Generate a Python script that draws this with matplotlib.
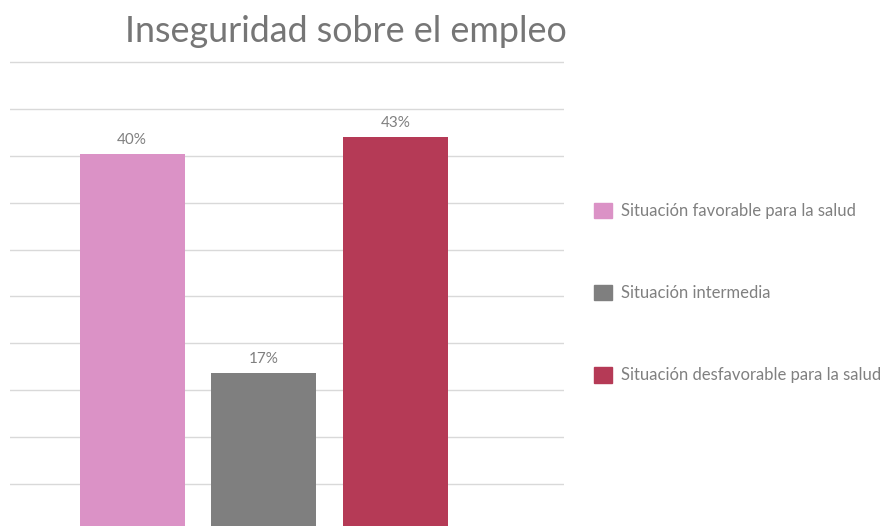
import matplotlib.pyplot as plt
from matplotlib.patches import Patch

plt.rcParams['font.family'] = ['Lato', 'DejaVu Sans']

categorias = ["Situación favorable para la salud",
              "Situación intermedia",
              "Situación desfavorable para la salud"]
valores = [40.2, 16.8, 42.0]
etiquetas = ["40%", "17%", "43%"]
colores = ["#DB92C6", "#7F7F7F", "#B53A56"]

texto = "#808080"

fig = plt.figure(figsize=(8.86, 5.26), dpi=100)
ax = fig.add_axes([10 / 886, 0, 554 / 886, 466 / 526])

x = range(len(valores))
barras = ax.bar(x, valores, width=0.795, color=colores, zorder=2)
for b, et in zip(barras, etiquetas):
    ax.annotate(et, (b.get_x() + b.get_width() / 2, b.get_height()),
                xytext=(0, 5), textcoords="offset points",
                ha="center", va="bottom", fontsize=11, color=texto)

ax.set_xlim(-0.928, 3.28)
ax.set_ylim(0.53, 50.2)
ax.set_yticks(range(5, 51, 5))
ax.yaxis.grid(True, color="#d9d9d9", linewidth=1, zorder=0)
ax.tick_params(left=False, bottom=False, labelleft=False, labelbottom=False)
for s in ax.spines.values():
    s.set_visible(False)

fig.text(346 / 886, 1 - 32 / 526, "Inseguridad sobre el empleo",
         ha="center", va="center", fontsize=25.8, color="#767676")

handles = [Patch(color=c) for c in colores]
fig.legend(handles, categorias, loc="center left",
           bbox_to_anchor=(579 / 886, 1 - 293 / 526), frameon=False,
           fontsize=12, labelcolor=texto, labelspacing=3.95,
           handlelength=1.05, handleheight=1.05, handletextpad=0.55)

fig.savefig("out.png", dpi=100)
